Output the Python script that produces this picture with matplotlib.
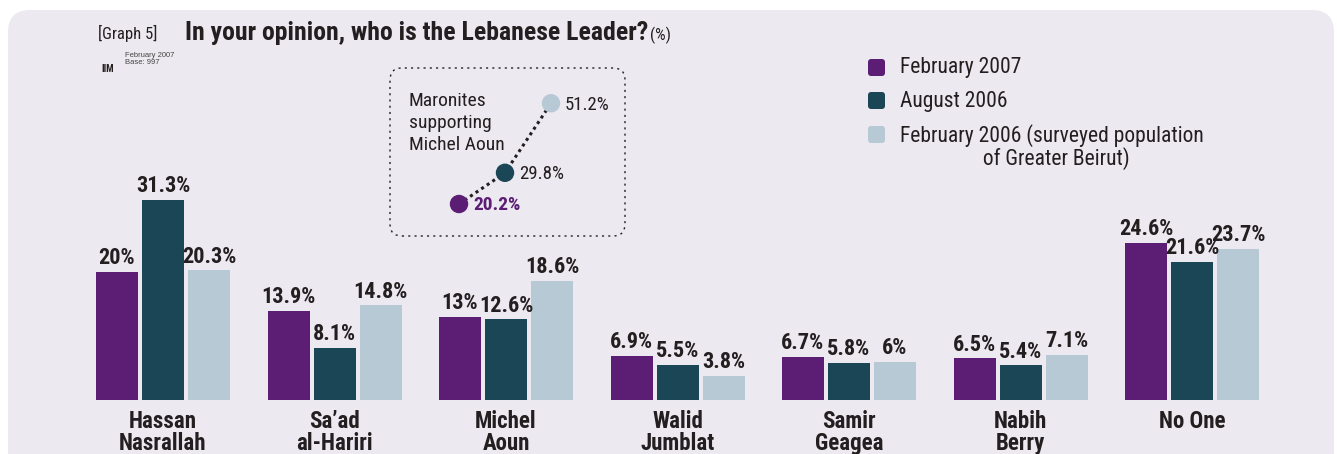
import matplotlib
matplotlib.use("Agg")
import matplotlib.pyplot as plt
import numpy as np
from matplotlib.patches import FancyBboxPatch

# ── data ─────────────────────────────────────────────
leaders = ["Hassan\nNasrallah", "Sa\u2019ad\nal-Hariri", "Michel\nAoun", "Walid\nJumblat",
           "Samir\nGeagea", "Nabih\nBerry", "No One"]
feb_2007 = [20, 13.9, 13, 6.9, 6.7, 6.5, 24.6]
aug_2006 = [31.3, 8.1, 12.6, 5.5, 5.8, 5.4, 21.6]
feb_2006 = [20.3, 14.8, 18.6, 3.8, 6, 7.1, 23.7]
series_names = ["February 2007", "August 2006",
                "February 2006 (surveyed population\n                 of Greater Beirut)"]

# inset: Maronites supporting Michel Aoun (Feb 2007, Aug 2006, Feb 2006)
maronite_aoun = [20.2, 29.8, 51.2]

PURPLE = "#5C1E74"
TEAL = "#1B4655"
LIGHT = "#B7C9D4"
BG = "#ECE9F0"
TXT = "#231F20"
colors = [PURPLE, TEAL, LIGHT]

W, H = 1337, 454
plt.rcParams["font.family"] = ["Roboto Condensed", "DejaVu Sans"]


def fx(x):
    return x / W


def fy(y):
    return 1 - y / H


fig = plt.figure(figsize=(W / 100, H / 100), dpi=100)
fig.patch.set_facecolor("white")

# rounded background panel
bg = FancyBboxPatch((fx(8), fy(480)), fx(1326), 470 / H,
                    boxstyle="round,pad=0,rounding_size=%f" % (22 / W),
                    mutation_aspect=W / H, transform=fig.transFigure,
                    facecolor=BG, edgecolor="none", zorder=-5)
fig.patches.append(bg)

# ── main bar chart ───────────────────────────────────
ax_l, ax_r, ax_t, ax_b = 60, 1300, 170, 400
ax = fig.add_axes([fx(ax_l), fy(ax_b), (ax_r - ax_l) / W, (ax_b - ax_t) / H])
ax.set_facecolor("none")
step = 171.5
ax.set_xlim((ax_l - 163) / step, (ax_r - 163) / step)
ax.set_ylim(0, (ax_b - ax_t) / 6.39)

x = np.arange(len(leaders))
bw = 42 / step
off = 46 / step
for i, (vals, c) in enumerate(zip([feb_2007, aug_2006, feb_2006], colors)):
    bars = ax.bar(x + (i - 1) * off, vals, width=bw, color=c, zorder=2)
    ax.bar_label(bars, labels=[f"{v:g}%" for v in vals], padding=2,
                 fontsize=16, fontweight="bold", color=TXT)

ax.set_xticks(x)
ax.set_xticklabels(leaders, fontsize=16.5, fontweight="bold", color=TXT,
                   linespacing=0.92)
ax.tick_params(axis="x", length=0, pad=7.5)
ax.set_yticks([])
for s in ax.spines.values():
    s.set_visible(False)

# ── titles ───────────────────────────────────────────
fig.text(fx(98), fy(39), "[Graph 5]", fontsize=12, color=TXT, va="baseline")
fig.text(fx(185), fy(40), "In your opinion, who is the Lebanese Leader?",
         fontsize=18.5, fontweight="bold", color=TXT, va="baseline")
fig.text(fx(650), fy(40), "(%)", fontsize=12, color=TXT, va="baseline")
fig.text(fx(125), fy(64), "February 2007\nBase: 997", fontsize=5.5,
         color="#444444", va="baseline", linespacing=1.0,
         family=["Liberation Sans", "DejaVu Sans"])
fig.text(fx(101), fy(72), "IIM", fontsize=7, fontweight="bold", color=TXT,
         va="baseline")

# ── legend ───────────────────────────────────────────
leg_y = [68, 101, 135]
for name, c, yy in zip(series_names, colors, leg_y):
    sq = FancyBboxPatch((fx(868), fy(yy + 8)), fx(17), 17 / H,
                        boxstyle="round,pad=0,rounding_size=%f" % (3 / W),
                        mutation_aspect=W / H, transform=fig.transFigure,
                        facecolor=c, edgecolor="none")
    fig.patches.append(sq)
    if "\n" in name:
        fig.text(fx(900), fy(yy - 11), name, fontsize=15.5, color=TXT, va="top",
                 linespacing=1.0)
    else:
        fig.text(fx(900), fy(yy), name, fontsize=15.5, color=TXT, va="center")

# ── inset: Maronites supporting Michel Aoun ──────────
box_l, box_r, box_t, box_b = 390, 625, 68, 236
box = FancyBboxPatch((fx(box_l), fy(box_b)), fx(box_r - box_l), (box_b - box_t) / H,
                     boxstyle="round,pad=0,rounding_size=%f" % (12 / W),
                     mutation_aspect=W / H, transform=fig.transFigure,
                     facecolor="none", edgecolor=TXT, linewidth=1.0,
                     linestyle=(0, (1.5, 3)))
fig.patches.append(box)

axi = fig.add_axes([fx(box_l), fy(box_b), (box_r - box_l) / W, (box_b - box_t) / H])
axi.set_facecolor("none")
axi.axis("off")
ix = np.arange(len(maronite_aoun))
axi.set_xlim((box_l - 459) / 46, (box_r - 459) / 46)
axi.set_ylim(20.2 - (box_b - 204) / 3.25, 20.2 + (204 - box_t) / 3.25)
axi.plot(ix, maronite_aoun, linestyle=(0, (1, 1.2)), color=TXT, linewidth=2.2,
         zorder=1)
axi.scatter(ix, maronite_aoun, s=150, color=colors, zorder=3)
for k, v in enumerate(maronite_aoun):
    axi.annotate(f"{v}%", (ix[k], v), xytext=(10, -1), textcoords="offset points",
                 va="center", ha="left",
                 fontsize=13.5 if k else 14,
                 fontweight="bold" if k == 0 else "normal",
                 color=PURPLE if k == 0 else TXT)
fig.text(fx(409), fy(92), "Maronites\nsupporting\nMichel Aoun", fontsize=14,
         color=TXT, va="top", linespacing=1.3)

fig.savefig("out.png", dpi=100)
